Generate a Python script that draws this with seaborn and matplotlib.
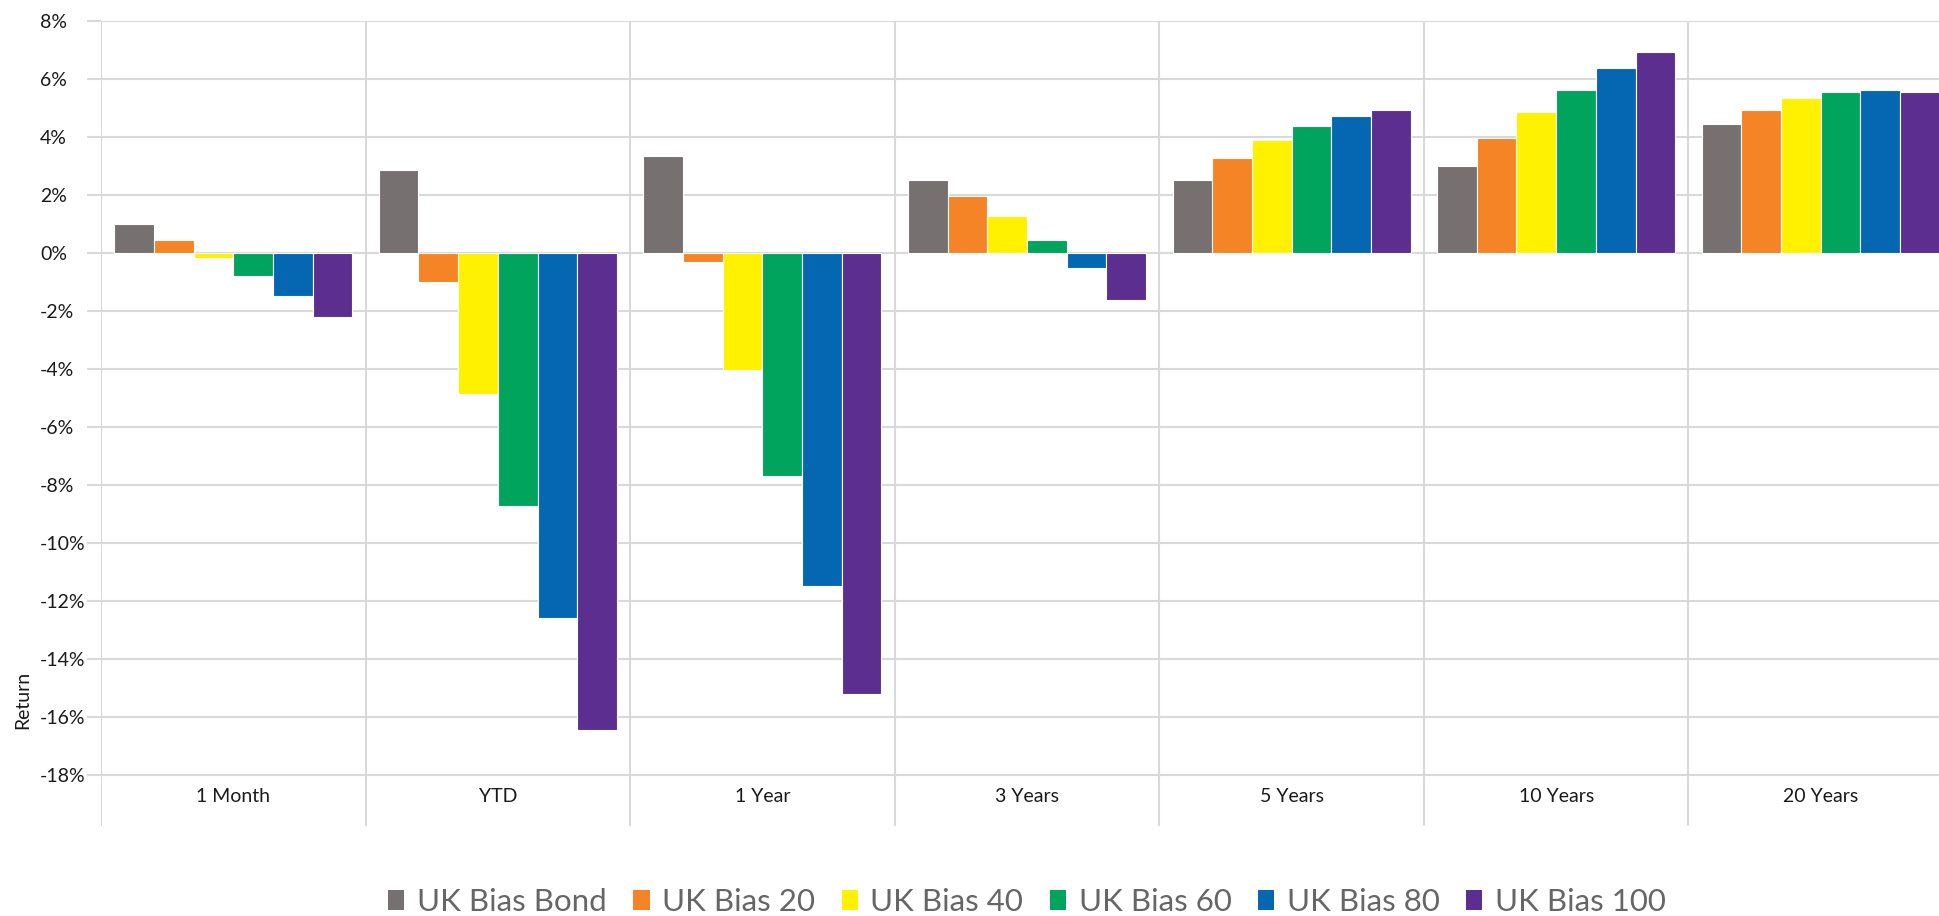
import matplotlib
matplotlib.use("Agg")
import matplotlib.pyplot as plt
from matplotlib.ticker import FuncFormatter, FixedLocator
import seaborn as sns
import pandas as pd

# Period returns (%) for each UK Bias portfolio
periods = ["1 Month", "YTD", "1 Year", "3 Years", "5 Years", "10 Years", "20 Years"]
uk_bias_bond = [1.01, 2.88, 3.36, 2.53, 2.53, 3.01, 4.46]
uk_bias_20 = [0.46, -0.98, -0.29, 1.98, 3.29, 3.99, 4.94]
uk_bias_40 = [-0.15, -4.84, -4.01, 1.29, 3.91, 4.87, 5.36]
uk_bias_60 = [-0.78, -8.70, -7.67, 0.46, 4.39, 5.63, 5.56]
uk_bias_80 = [-1.46, -12.56, -11.46, -0.51, 4.73, 6.39, 5.63]
uk_bias_100 = [-2.19, -16.43, -15.19, -1.61, 4.94, 6.94, 5.56]

series_names = ["UK Bias Bond", "UK Bias 20", "UK Bias 40",
                "UK Bias 60", "UK Bias 80", "UK Bias 100"]
series_values = [uk_bias_bond, uk_bias_20, uk_bias_40,
                 uk_bias_60, uk_bias_80, uk_bias_100]
colors = ["#767170", "#F58426", "#FFF100", "#00A45C", "#0566B2", "#5B2E90"]
y_ticks = list(range(-18, 9, 2))

rows = []
for name, vals in zip(series_names, series_values):
    for p, v in zip(periods, vals):
        rows.append({"Period": p, "Fund": name, "Return": v})
df = pd.DataFrame(rows)

sns.set_theme(style="white")
plt.rcParams["font.family"] = ["Lato", "DejaVu Sans"]

W, H = 1940, 916
fig = plt.figure(figsize=(W / 100, H / 100), dpi=100)
fig.patch.set_facecolor("white")

# axes run slightly past the right edge of the canvas
left_px, right_px, top_px, bottom_px = 101, 1953, 21.3, 826
ax = fig.add_axes([left_px / W, 1 - bottom_px / H,
                   (right_px - left_px) / W, (bottom_px - top_px) / H])

sns.barplot(data=df, x="Period", y="Return", hue="Fund",
            order=periods, hue_order=series_names, palette=colors,
            saturation=1, width=0.9, edgecolor="white", linewidth=0.8,
            errorbar=None, ax=ax, zorder=3)

grid_col = "#d9d9d9"
ax.set_xlim(-0.5, len(periods) - 0.5)
ax.set_ylim(8 - (bottom_px - top_px) / 29.0, 8)

ax.yaxis.set_major_locator(FixedLocator(y_ticks))
ax.yaxis.set_major_formatter(FuncFormatter(lambda v, _: f"{v:.0f}%"))
ax.grid(axis="y", color=grid_col, linewidth=1.5, zorder=0)
ax.grid(axis="x", visible=False)
# left-aligned percentage labels starting ~40px from the edge
ax.tick_params(axis="y", which="major", left=True, length=10, width=1.5,
               color=grid_col, pad=(87 - 40) * 0.72, labelsize=14,
               labelcolor="#1a1a1a")
for lbl in ax.get_yticklabels():
    lbl.set_horizontalalignment("left")
ax.tick_params(axis="x", bottom=False, labelbottom=False)
for s in ax.spines.values():
    s.set_visible(False)

# category separators
for b in range(len(periods) + 1):
    ax.axvline(b - 0.5, color=grid_col, linewidth=1.5, zorder=1)

# category labels inside the bottom band
for i, p in enumerate(periods):
    ax.text(i, 8 - (797 - top_px) / 29.0, p, ha="center", va="center",
            fontsize=14, color="#1a1a1a")

ax.set_xlabel("")
ax.set_ylabel("")
fig.text(23 / W, 1 - 700 / H, "Return", rotation=90, ha="center",
         va="center", fontsize=14, color="#1a1a1a")

handles, labels = ax.get_legend_handles_labels()
if ax.get_legend() is not None:
    ax.get_legend().remove()
for h in handles:
    h.set_edgecolor("none")
fig.legend(handles, labels, loc="center",
           bbox_to_anchor=(((left_px + right_px) / 2) / W, 1 - 902 / H),
           ncol=6, frameon=False, fontsize=22.5, labelcolor="#666666",
           handlelength=0.52, handleheight=0.62, handletextpad=0.4,
           columnspacing=0.85, borderaxespad=0)

fig.savefig("out.png", dpi=100, facecolor="white")
